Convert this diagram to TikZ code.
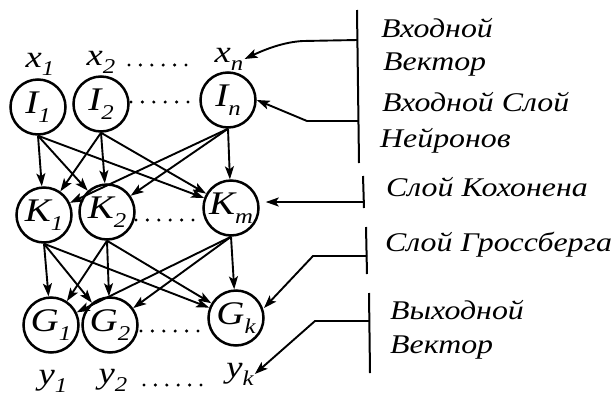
\documentclass[tikz,border=0pt]{standalone}
\usepackage{fontspec}
\setmainfont{Liberation Serif}
\newfontfamily\wideserif[FakeStretch=1.18]{Liberation Serif}
\usetikzlibrary{arrows.meta}
\newcommand\nsub[2]{#1\raisebox{-0.26em}{\fontsize{21}{21}\selectfont #2}}
\begin{document}
\begin{tikzpicture}[x=1pt,y=-1pt,
  neuron/.style={circle,draw,line width=2.5pt,minimum size=55pt,inner sep=0pt,
    font=\wideserif\fontsize{33}{33}\selectfont\itshape},
  lbl/.style={font=\wideserif\fontsize{31}{31}\selectfont\itshape,inner sep=1pt},
  conn/.style={line width=1.9pt,-{Stealth[length=13pt,width=9pt,inset=3pt]}},
  capt/.style={font=\wideserif\fontsize{27}{30}\selectfont\itshape,anchor=base west,inner sep=0pt},
  barline/.style={line width=2pt},
  dotrow/.style={line width=3.4pt,line cap=round,dash pattern=on 0pt off 11.4pt}]
\useasboundingbox (0,0) rectangle (616,397);

% labels x
\node[lbl] (x1) at (40,64) {\nsub{x}{1}};
\node[lbl] (x2) at (101,62) {\nsub{x}{2}};
\node[lbl] (xn) at (229,59) {\nsub{x}{n}};
% input layer
\node[neuron] (I1) at (38,107) {\nsub{I}{1}};
\node[neuron] (I2) at (101,104) {\nsub{I}{2}};
\node[neuron] (In) at (228,100) {\nsub{I}{n}};
% Kohonen layer
\node[neuron] (K1) at (44,215) {\nsub{K}{1}};
\node[neuron] (K2) at (107,212) {\nsub{K}{2}};
\node[neuron] (Km) at (231,208) {\nsub{K}{m}};
% Grossberg layer
\node[neuron] (G1) at (51,325) {\nsub{G}{1}};
\node[neuron] (G2) at (110,325) {\nsub{G}{2}};
\node[neuron] (Gk) at (236,318) {\nsub{G}{k}};
% outputs
\node[lbl] (y1) at (53,381) {\nsub{y}{1}};
\node[lbl] (y2) at (113,380) {\nsub{y}{2}};
\node[lbl] (yk) at (240,374) {\nsub{y}{k}};

% dot rows
\draw[dotrow] (129,65) -- (190,65);
\draw[dotrow] (131,102) -- (192,102);
\draw[dotrow] (136,220) -- (197,220);
\draw[dotrow] (141,331) -- (202,331);
\draw[dotrow] (144,385) -- (205,385);

% connections
\foreach \s in {I1,I2,In}
  \foreach \t in {K1,K2,Km}
    \draw[conn] (\s.south) -- (\t);
\foreach \s in {K1,K2,Km}
  \foreach \t in {G1,G2,Gk}
    \draw[conn] (\s.south) -- (\t);

% brackets
\draw[barline] (357,10) -- (359,163);
\draw[barline] (363,176) -- (364,208);
\draw[barline] (366,227) -- (367,274);
\draw[barline] (369,293) -- (370,373);
\coordinate (t1) at (357.5,40);
\coordinate (t2) at (358.5,121);
\coordinate (t3) at (363.8,202);
\coordinate (t4) at (367,256);
\coordinate (t5) at (369.5,321);

\draw[conn] (t1) -- (303,41) .. controls (284,42) and (266,49) .. (xn.east);
\draw[conn] (t2) -- (307,121) -- (In.east);
\draw[conn,shorten >=6pt] (t3) -- (t3 -| Km.east);
\draw[conn] (t4) -- (313,256) -- (264,308);
\draw[conn] (t5) -- (315,321) -- (yk.east);

% captions
\node[capt] (c1) at (381,37) {Входной};
\node[capt] (c2) at (383,70) {Вектор};
\node[capt] (c3) at (382,111) {Входной Слой};
\node[capt] (c4) at (380,147) {Нейронов};
\node[capt] (c5) at (386,196) {Слой Кохонена};
\node[capt] (c6) at (385,251) {Слой Гроссберга};
\node[capt] (c7) at (390,319) {Выходной};
\node[capt] (c8) at (390,353) {Вектор};
\end{tikzpicture}
\end{document}
